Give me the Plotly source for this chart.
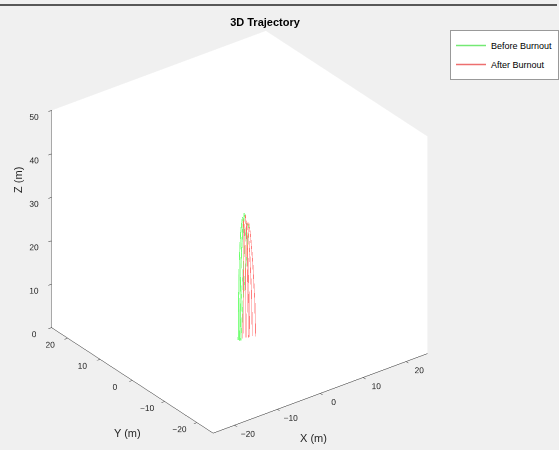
import plotly.graph_objects as go

# ---- data ----
# each run: list of (x, y, z) points, before and after burnout
before_runs = [
    [(0.0, 0.0, 0.0), (0.1, 0.0, 8.0), (0.3, 0.0, 16.0), (0.6, 0.0, 22.0), (0.9, 0.0, 26.0), (1.2, 0.0, 28.5), (1.4, 0.0, 28.0)],
    [(0.0, 0.2, 0.0), (0.0, 0.2, 10.0), (0.1, 0.2, 18.0), (0.4, 0.2, 24.0), (0.8, 0.2, 27.5), (1.1, 0.2, 27.0)],
    [(0.2, -0.2, 0.0), (0.6, -0.2, 8.0), (1.2, -0.2, 15.0), (1.7, -0.2, 21.0), (1.9, -0.2, 25.0), (2.0, -0.2, 26.5)],
    [(-0.1, 0.3, 0.0), (0.0, 0.3, 10.0), (0.2, 0.3, 19.0), (0.5, 0.3, 25.0), (0.9, 0.3, 28.0), (1.1, 0.3, 27.5)],
    [(0.1, 0.0, 0.0), (0.4, 0.0, 9.0), (0.9, 0.0, 17.0), (1.3, 0.0, 23.0), (1.6, 0.0, 26.0), (1.8, 0.0, 26.5)],
    [(0.0, -0.1, 0.0), (0.1, -0.1, 10.0), (0.3, -0.1, 19.0), (0.6, -0.1, 25.0), (1.0, -0.1, 29.0), (1.3, -0.1, 28.5)],
]
after_runs = [
    [(1.4, 0.0, 28.0), (1.6, 0.0, 26.0), (1.9, 0.0, 20.0), (2.2, 0.0, 10.0), (2.4, 0.0, 0.0)],
    [(1.1, 0.2, 27.0), (1.3, 0.2, 25.0), (1.5, 0.2, 18.0), (1.6, 0.2, 9.0), (1.7, 0.2, 0.0)],
    [(2.0, -0.2, 26.5), (2.3, -0.3, 24.0), (2.8, -0.4, 17.0), (3.2, -0.5, 8.0), (3.4, -0.5, 0.0)],
    [(1.1, 0.3, 27.5), (1.2, 0.3, 25.0), (1.2, 0.3, 17.0), (1.1, 0.3, 8.0), (1.0, 0.3, 0.0)],
    [(1.8, 0.0, 26.5), (2.0, 0.0, 25.0), (2.4, 0.0, 19.0), (2.8, 0.0, 10.0), (3.0, 0.0, 0.0)],
    [(1.3, -0.1, 28.5), (1.5, -0.1, 26.0), (1.7, -0.1, 19.0), (1.9, -0.1, 9.0), (2.0, -0.1, 0.0)],
]
axis_ticks = [-20, -10, 0, 10, 20]
z_ticks = [0, 10, 20, 30, 40, 50]


def flatten(runs):
    xs, ys, zs = [], [], []
    for run in runs:
        for (x, y, z) in run:
            xs.append(x); ys.append(y); zs.append(z)
        xs.append(None); ys.append(None); zs.append(None)
    return xs, ys, zs


bx, by, bz = flatten(before_runs)
ax_, ay_, az_ = flatten(after_runs)

fig = go.Figure()
fig.add_trace(go.Scatter3d(x=bx, y=by, z=bz, mode="lines", name="Before Burnout",
                           connectgaps=False,
                           line=dict(color="rgba(70,225,70,0.75)", width=1.5)))
fig.add_trace(go.Scatter3d(x=ax_, y=ay_, z=az_, mode="lines", name="After Burnout",
                           connectgaps=False,
                           line=dict(color="rgba(230,50,50,0.7)", width=1.5)))

font_fam = "Liberation Sans, Arial, Helvetica, sans-serif"
axcommon = dict(showgrid=False, zeroline=False, showline=True, linecolor="#262626",
                linewidth=1, ticks="outside", ticklen=4, tickcolor="#262626",
                showbackground=True, backgroundcolor="white", showspikes=False,
                tickangle=0, title_text="",
                tickfont=dict(size=10, color="#262626", family=font_fam))

W, H = 559, 450
title_font = dict(size=11, color="#262626", family=font_fam)
k = 1.254

fig.update_layout(
    width=W, height=H,
    paper_bgcolor="#F0F0F0",
    margin=dict(l=0, r=0, t=0, b=0),
    font=dict(family=font_fam, color="#262626"),
    title=dict(text="<b>3D Trajectory</b>", x=265/W, y=1-22/H, xanchor="center",
               yanchor="middle", font=dict(size=11, color="black", family=font_fam)),
    scene=dict(
        domain=dict(x=[0.0, 0.86], y=[0.009, 0.96]),
        bgcolor="#F0F0F0",
        xaxis=dict(range=[-25, 25], tickvals=axis_ticks, **axcommon),
        yaxis=dict(range=[-25, 25], tickvals=axis_ticks, **axcommon),
        zaxis=dict(range=[0, 50], tickvals=z_ticks, **axcommon),
        aspectmode="manual",
        aspectratio=dict(x=k, y=k, z=0.93 * k),
        camera=dict(projection=dict(type="orthographic"),
                    eye=dict(x=-1.048, y=-1.390, z=0.985),
                    up=dict(x=0, y=0, z=1),
                    center=dict(x=0, y=0, z=0)),
    ),
    annotations=[
        dict(text="X (m)", x=315/W, y=1-438/H, xref="paper", yref="paper",
             xanchor="center", yanchor="middle", showarrow=False, font=title_font),
        dict(text="Y (m)", x=128/W, y=1-433/H, xref="paper", yref="paper",
             xanchor="center", yanchor="middle", showarrow=False, font=title_font),
        dict(text="Z (m)", x=18/W, y=1-180/H, xref="paper", yref="paper",
             xanchor="center", yanchor="middle", showarrow=False, textangle=-90,
             font=title_font),
    ],
    legend=dict(x=452/W, y=1-30/H, xanchor="left", yanchor="top",
                bgcolor="white", bordercolor="#999999", borderwidth=1,
                font=dict(size=9, color="black", family=font_fam),
                tracegroupgap=0, itemwidth=30),
    shapes=[dict(type="line", xref="paper", yref="paper", x0=0, x1=1,
                 y0=1-5/H, y1=1-5/H, line=dict(color="#262626", width=1.5))],
)

fig.write_html("out.html", config={"displayModeBar": False},
               post_script="document.body.style.margin='0';document.body.style.padding='0';")
